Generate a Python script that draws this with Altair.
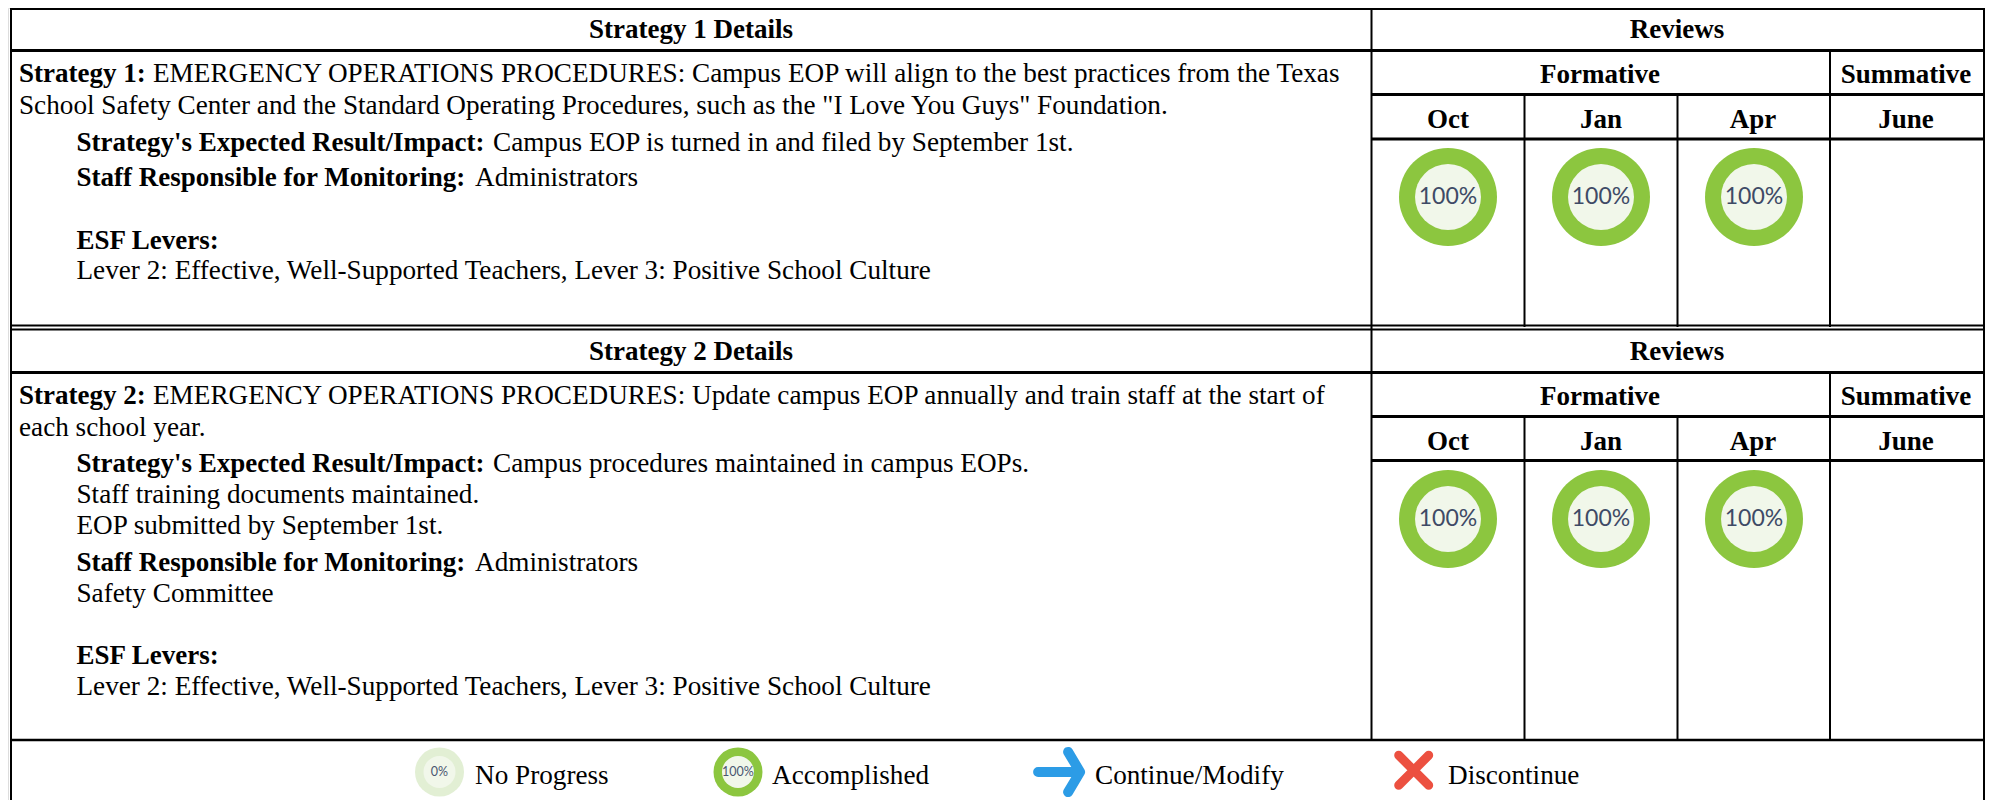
import altair as alt
import pandas as pd

# ---- content -----------------------------------------------------------
strategy_titles = ["Strategy 1 Details", "Strategy 2 Details"]
review_header = "Reviews"
review_groups = ["Formative", "Summative"]
review_months = ["Oct", "Jan", "Apr", "June"]
strategy_labels = ["Strategy 1:", "Strategy 2:"]
strategy_text = [
    ["EMERGENCY OPERATIONS PROCEDURES: Campus EOP will align to the best practices from the Texas",
     "School Safety Center and the Standard Operating Procedures, such as the \"I Love You Guys\" Foundation."],
    ["EMERGENCY OPERATIONS PROCEDURES: Update campus EOP annually and train staff at the start of",
     "each school year."],
]
impact_label = "Strategy's Expected Result/Impact:"
impact_text = [
    ["Campus EOP is turned in and filed by September 1st."],
    ["Campus procedures maintained in campus EOPs.", "Staff training documents maintained.",
     "EOP submitted by September 1st."],
]
staff_label = "Staff Responsible for Monitoring:"
staff_text = [["Administrators"], ["Administrators", "Safety Committee"]]
esf_label = "ESF Levers:"
esf_text = "Lever 2: Effective, Well-Supported Teachers, Lever 3: Positive School Culture"
reviews_done = [100, 100, 100]
legend_labels = ["No Progress", "Accomplished", "Continue/Modify", "Discontinue"]
legend_values = [0, 100]

# ---- page layout (page pixels) -------------------------------------------
X_L, X_M, X_R = 11, 1371.5, 1984
X_MONTH = [1524.5, 1677.5, 1830]
BOLD, NORMAL = [], []
CENTER_BOLD = []
DY = 1


def t(rows, x, y, text):
    rows.append({"x": x, "y": y + DY, "text": text})


for i in range(2):
    off = [0, 322][i]
    t(CENTER_BOLD, 691, 37 + off, strategy_titles[i])
    t(CENTER_BOLD, 1677, 37 + off, review_header)
    t(CENTER_BOLD, 1600, 82 + off, review_groups[0])
    t(CENTER_BOLD, 1906, 82 + off, review_groups[1])
    for cx, m in zip([1448, 1601, 1753, 1906], review_months):
        t(CENTER_BOLD, cx, 127 + off, m)
    t(BOLD, 19, 81 + off, strategy_labels[i])
    t(NORMAL, 153, 81 + off, strategy_text[i][0])
    t(NORMAL, 19, 113 + off, strategy_text[i][1])

t(BOLD, 76.5, 150, impact_label)
t(NORMAL, 493, 150, impact_text[0][0])
t(BOLD, 76.5, 185, staff_label)
t(NORMAL, 475, 185, staff_text[0][0])
t(BOLD, 76.5, 248, esf_label)
t(NORMAL, 76.5, 278, esf_text)

t(BOLD, 76.5, 471, impact_label)
t(NORMAL, 493, 471, impact_text[1][0])
t(NORMAL, 76.5, 502, impact_text[1][1])
t(NORMAL, 76.5, 533, impact_text[1][2])
t(BOLD, 76.5, 570, staff_label)
t(NORMAL, 475, 570, staff_text[1][0])
t(NORMAL, 76.5, 601, staff_text[1][1])
t(BOLD, 76.5, 663, esf_label)
t(NORMAL, 76.5, 694, esf_text)

for x, s in zip([475, 772, 1095, 1448], legend_labels):
    t(NORMAL, x, 783, s)

GRID = []


def h(x1, x2, y, w):
    GRID.append({"x": x1, "x2": x2, "y": y, "y2": y, "w": w})


def v(x, y1, y2, w=2):
    GRID.append({"x": x, "x2": x, "y": y1, "y2": y2, "w": w})


h(X_L, X_R, 9, 2)
h(X_L, X_R, 50.5, 3)
h(X_M, X_R, 94.5, 3)
h(X_M, X_R, 139, 3)
h(X_L, X_R, 325.5, 2)
h(X_L, X_R, 329.5, 2)
h(X_L, X_R, 372.5, 3)
h(X_M, X_R, 416.5, 3)
h(X_M, X_R, 460.5, 3)
h(X_L, X_R, 740, 2.5)
v(X_L, 8, 800)
v(X_R, 8, 800)
v(X_M, 8, 740)
for y0, y1 in [(50, 327), (372, 740)]:
    v(X_MONTH[2], y0, y1)
for y0, y1 in [(94, 327), (416, 740)]:
    v(X_MONTH[0], y0, y1)
    v(X_MONTH[1], y0, y1)

RING_X = [1448, 1601, 1754]
RING_Y = [197, 519]
rings = []
for ry in RING_Y:
    for rx, val in zip(RING_X, reviews_done):
        rings.append({"x": rx, "y": ry, "val": val, "label": f"{val}%"})

legend_rings = [
    {"x": 439.5, "y": 772, "val": legend_values[0], "label": f"{legend_values[0]}%"},
    {"x": 738, "y": 772, "val": legend_values[1], "label": f"{legend_values[1]}%"},
]

X = alt.X("x:Q", axis=None, scale=alt.Scale(domain=[8, 1985], nice=False, zero=False))
Y = alt.Y("y:Q", axis=None, scale=alt.Scale(domain=[800, 8], nice=False, zero=False))
SERIF = "Liberation Serif"


def text_layer(rows, weight, align, fs):
    return alt.Chart(pd.DataFrame(rows)).mark_text(
        font=SERIF, fontSize=fs, fontWeight=weight, align=align, baseline="alphabetic", color="#000000"
    ).encode(x=X, y=Y, text="text:N")


grid = alt.Chart(pd.DataFrame(GRID)).mark_rule(color="#000000").encode(
    x=X, x2="x2:Q", y=Y, y2="y2:Q", strokeWidth=alt.StrokeWidth("w:Q", scale=None)
)


def disc(rows, d, inner):
    df = pd.DataFrame(rows)
    outer_col = alt.condition("datum.val > 0", alt.value("#8CC63F"), alt.value("#E2EFD4"))
    a = alt.Chart(df).mark_point(filled=True, shape="circle", size=d * d, opacity=1).encode(
        x=X, y=Y, fill=outer_col
    )
    b = alt.Chart(df).mark_point(filled=True, shape="circle", size=inner * inner,
                                 opacity=1, fill="#F1F7EA").encode(x=X, y=Y)
    return a + b


ring_text = alt.Chart(pd.DataFrame(rings)).mark_text(
    font="Lato", fontSize=23, align="center", baseline="middle", color="#3E4A66"
).encode(x=X, y=Y, text="label:N")
legend_text = alt.Chart(pd.DataFrame(legend_rings)).mark_text(
    font="Lato", fontSize=12.5, align="center", baseline="middle", color="#4A5670"
).encode(x=X, y=Y, text="label:N")

ARROW = "M-0.73,0 L0.6,0 M0.27,-0.67 L0.67,0 L0.27,0.67"
CROSS = "M-1,-1 L1,1 M-1,1 L1,-1"
arrow = alt.Chart(pd.DataFrame([{"x": 1060, "y": 772}])).mark_point(
    shape=ARROW, size=3600, filled=False, stroke="#2C9CE6", strokeWidth=10, opacity=1,
    strokeCap="round", strokeJoin="round"
).encode(x=X, y=Y)
cross = alt.Chart(pd.DataFrame([{"x": 1413.7, "y": 770.3}])).mark_point(
    shape=CROSS, size=900, filled=False, stroke="#EC5040", strokeWidth=9, opacity=1,
    strokeCap="round", strokeJoin="round"
).encode(x=X, y=Y)

chart = alt.layer(
    grid,
    text_layer(CENTER_BOLD, "bold", "center", 27),
    text_layer(BOLD, "bold", "left", 27),
    text_layer(NORMAL, "normal", "left", 27.2),
    disc(rings, 98, 66),
    ring_text,
    disc(legend_rings, 49, 32),
    legend_text,
    arrow,
    cross,
).properties(
    width=1977, height=792, padding=0, autosize=alt.AutoSizeParams(type="none")
).configure_view(stroke=None).configure(background="#ffffff")

chart.save("out.html", embed_options={"renderer": "svg", "actions": False})
